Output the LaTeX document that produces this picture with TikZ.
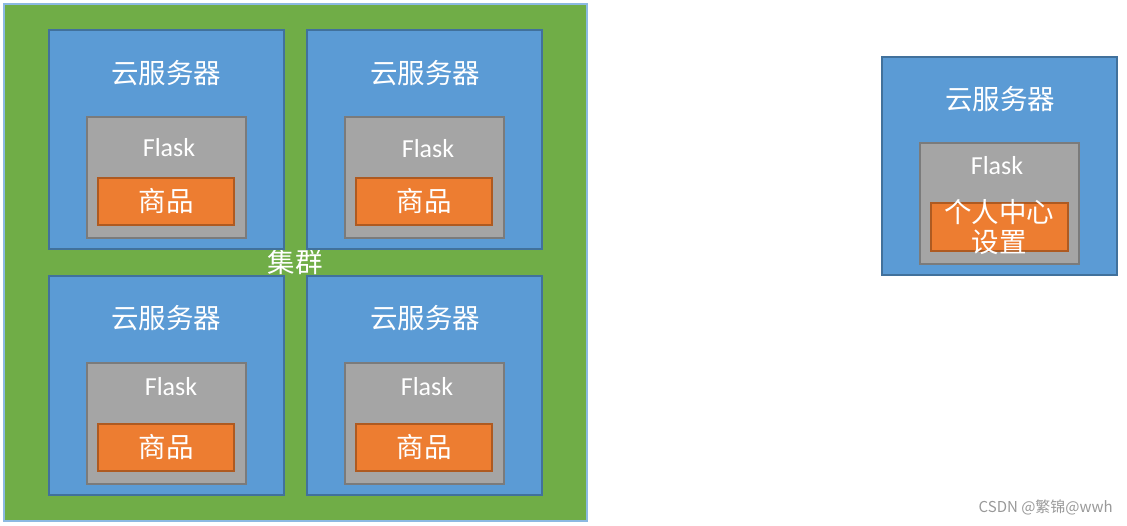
\documentclass[tikz,border=0pt]{standalone}
\usepackage{fontspec}
\setmainfont{Carlito}
\newfontfamily\cjk{Noto Sans CJK SC}
\definecolor{cgreen}{HTML}{70AD47}
\definecolor{cblue}{HTML}{5B9BD5}
\definecolor{cblueline}{HTML}{41719C}
\definecolor{cgray}{HTML}{A5A5A5}
\definecolor{cgrayline}{HTML}{7B7B7B}
\definecolor{corange}{HTML}{ED7D31}
\definecolor{corangeline}{HTML}{AE5A21}
\definecolor{cwm}{HTML}{999999}
\tikzset{
  box/.style={draw, line width=1.4pt},
  greenbox/.style={box, fill=cgreen, draw=cblue!70},
  bluebox/.style={box, fill=cblue, draw=cblueline},
  graybox/.style={box, fill=cgray, draw=cgrayline},
  orangebox/.style={box, fill=corange, draw=corangeline},
  cjktxt/.style={text=white, font=\cjk\fontsize{27.5}{30}\selectfont, inner sep=0pt},
  flasktxt/.style={text=white, font=\fontsize{26}{30}\selectfont, inner sep=0pt},
}
\begin{document}
\begin{tikzpicture}[x=1pt,y=-1pt]
\useasboundingbox (0,0) rectangle (1127,526);
% cluster
\draw[greenbox] (4,4) rectangle (587,521);
\node[cjktxt] (cl) at (295,262) {集群};
% four servers
\foreach \n/\x/\y in {a/49/30, b/307/30, c/49/276, d/307/276}{
  \draw[bluebox] (\x,\y) rectangle ++(235,219);
  \draw[graybox] (\x+38,\y+87) rectangle ++(159,121);
  \draw[orangebox] (\x+49,\y+148) rectangle ++(136,47);
}
\node[cjktxt] (sa) at (166,73) {云服务器};
\node[cjktxt] (sb) at (425,73) {云服务器};
\node[cjktxt] (sc) at (166,318) {云服务器};
\node[cjktxt] (sd) at (425,318) {云服务器};
\node[flasktxt] (fa) at (169,148) {Flask};
\node[flasktxt] (fb) at (428,149) {Flask};
\node[flasktxt] (fc) at (171,387) {Flask};
\node[flasktxt] (fd) at (427,387) {Flask};
\node[cjktxt] (ga) at (166,201) {商品};
\node[cjktxt] (gb) at (424,201) {商品};
\node[cjktxt] (gc) at (166,447) {商品};
\node[cjktxt] (gd) at (424,447) {商品};
% single server
\draw[bluebox] (882,57) rectangle (1117,275);
\draw[graybox] (920,143) rectangle (1079,264);
\draw[orangebox] (931,203) rectangle (1068,251);
\node[cjktxt] (se) at (1000,99) {云服务器};
\node[flasktxt] (fe) at (997,166) {Flask};
\node[cjktxt, align=center, font=\cjk\fontsize{27.5}{30}\selectfont] (pe) at (999,227) {个人中心\\设置};
% watermark
\node[text=cwm, font=\cjk\fontsize{15}{17}\selectfont, inner sep=0pt, anchor=east] (wm) at (1113,507) {CSDN @繁锦@wwh};
\end{tikzpicture}
\end{document}
